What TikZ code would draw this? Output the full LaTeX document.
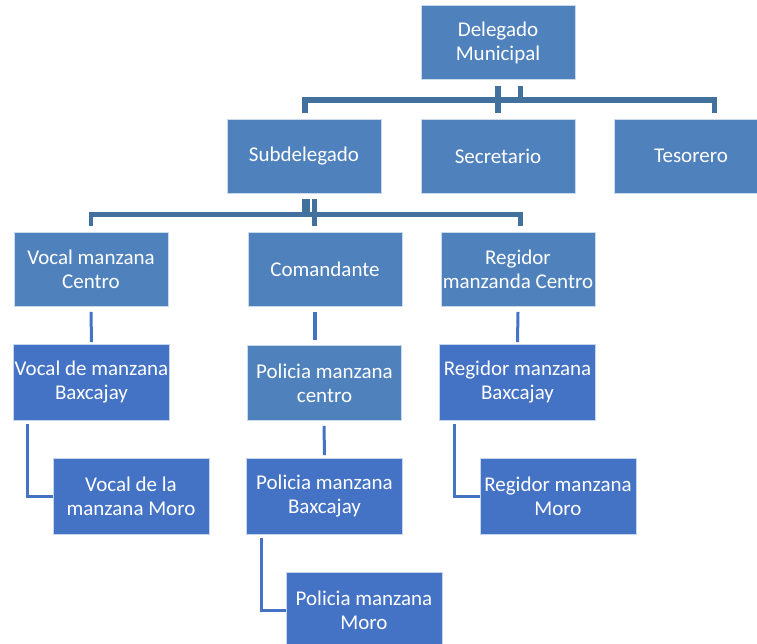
\documentclass[tikz,border=0pt]{standalone}
\usepackage{fontspec}
\setmainfont{Carlito}
\usetikzlibrary{calc}
\definecolor{boxA}{HTML}{4F81BD}
\definecolor{boxB}{HTML}{4472C4}
\definecolor{busline}{HTML}{41719C}
\definecolor{linkline}{HTML}{4472C4}
\tikzset{
  cargo/.style={draw=white!70!boxA, line width=0.6pt, fill=boxA, text=white, align=center,
    minimum width=154pt, minimum height=74pt, inner sep=0pt,
    font=\fontsize{21}{24}\selectfont},
  cargob/.style={cargo, fill=boxB, draw=white!70!boxB, minimum width=156pt, minimum height=76pt},
  bus/.style={draw=busline, line width=5.5pt},
  link/.style={draw=linkline, line width=3pt},
}

\begin{document}
\begin{tikzpicture}[x=1pt, y=-1pt]
			%%%%% START %%%%%
			\clip (0, 0) rectangle (757, 644);
			
			\node[cargo] (dlg) at (498, 42.5) {Delegado\\Municipal};
			
			\node[cargo] (sub) at (304, 156) {Subdelegado};
			\node[cargo] (sec) at (498, 156) {Secretario};
			\node[cargo] (teso) at (691, 156) {Tesorero};
			
			\node[cargo] (voc1) at (91, 269.5) {Vocal manzana\\Centro};
			\node[cargo] (com) at (325, 269.5) {Comandante};
			\node[cargo] (reg1) at (518, 269.5) {Regidor\\manzanda Centro};
			
			\node[cargob] (voc2) at (91.5, 382.5) {Vocal de manzana\\Baxcajay};
			\node[cargo, minimum height=75pt] (pol1) at (324.5, 383) {Policia manzana\\centro};
			\node[cargob] (reg2) at (517.5, 382.5) {Regidor manzana\\Baxcajay};
			
			\node[cargob] (voc3) at (131, 496.5) {Vocal de la\\manzana Moro};
			\node[cargob] (pol2) at (324.5, 496.5) {Policia manzana\\Baxcajay};
			\node[cargob] (reg3) at (558, 496.5) {Regidor manzana\\Moro};
			
			\node[cargob] (pol3) at (364, 610) {Policia manzana\\Moro};
			
			% upper level
			\draw[bus] ([xshift=1pt, yshift=6pt]sub.north) -- ++(0, -12.5) -- ++(409.5, 0) -- ++(0, 12.5);
			\draw[bus] ([yshift=-6pt]dlg.south) -- ([yshift=6pt]sec.north);
			\draw[bus] ([xshift=22.5pt, yshift=-6pt]dlg.south) -- ++(0, 15);
			
			% second level
			\draw[bus, line width=4.5pt] ([yshift=6pt]voc1.north) -- ++(0, -11.5) -- ++(429.5, 0) -- ++(0, 11.5);
			\draw[bus, line width=8pt] ([xshift=2pt, yshift=-6pt]sub.south) -- ++(0, 18);
			\draw[bus, line width=4.5pt] ([xshift=10.5pt, yshift=-6pt]sub.south) -- ++(0, 27);
			
			% columns
			\draw[link] ([yshift=-5pt]voc1.south) -- ([yshift=2pt]voc2.north);
			\draw[link, line width=4.5pt] ([xshift=-10pt, yshift=-5pt]com.south) -- ([xshift=-9.5pt, yshift=5pt]pol1.north);
			\draw[link] ([yshift=-5pt]reg1.south) -- ([yshift=2pt]reg2.north);
			\draw[link] ([xshift=-0.5pt, yshift=-5pt]pol1.south) -- ([yshift=3pt]pol2.north);
			
			\draw[link] ([xshift=14pt, yshift=-3pt]voc2.south west) |- (voc3.west);
			\draw[link] ([xshift=15pt, yshift=-3pt]reg2.south west) |- (reg3.west);
			\draw[link] ([xshift=15pt, yshift=-3pt]pol2.south west) |- (pol3.west);
			%%%%% END %%%%%
		\end{tikzpicture}
\end{document}
